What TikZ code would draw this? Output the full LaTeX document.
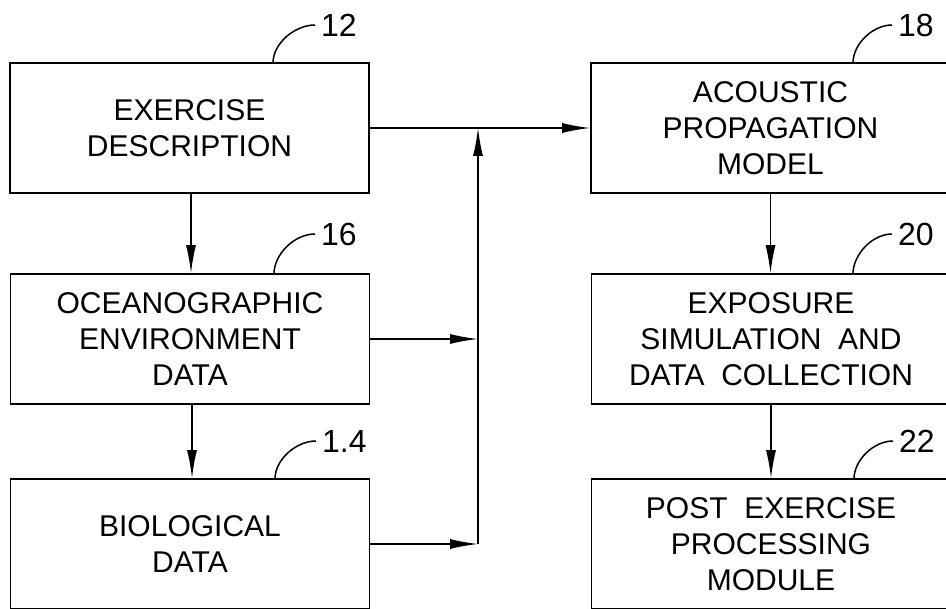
\documentclass[tikz,border=0pt]{standalone}
\usepackage{fontspec}
\setmainfont{Liberation Sans}
\usetikzlibrary{arrows.meta}
\begin{document}
\begin{tikzpicture}[x=1pt,y=-1pt,
  box/.style={draw, line width=1.6pt, minimum width=359pt, minimum height=130pt,
    inner sep=0pt, align=center, font=\fontsize{30}{36}\selectfont},
  flow/.style={line width=1.5pt, -{Latex[length=28pt,width=10pt]}},
  leader/.style={line width=1.5pt},
  refnum/.style={anchor=west, inner sep=0pt, font=\fontsize{32}{36}\selectfont}
]
\useasboundingbox (0,0) rectangle (946,609);
\clip (0,0) rectangle (946,609);

% input blocks
\node[box] (b12) at (189.5,128) {EXERCISE\\DESCRIPTION};
\node[box] (b16) at (190,339) {OCEANOGRAPHIC\\ENVIRONMENT\\DATA};
\node[box] (b14) at (190,544) {BIOLOGICAL\\DATA};

% processing chain
\node[box] (b18) at (770.5,128) {ACOUSTIC\\PROPAGATION\\MODEL};
\node[box] (b20) at (771,339) {EXPOSURE\\SIMULATION\ \ AND\\DATA\ \ COLLECTION};
\node[box] (b22) at (771,544) {POST\ \ EXERCISE\\PROCESSING\\MODULE};

% reference numerals
\node[refnum] (n12) at (321,25) {12};
\node[refnum] (n16) at (321,234) {16};
\node[refnum] (n14) at (322,441) {1.4};
\node[refnum] (n18) at (898,25) {18};
\node[refnum] (n20) at (898,234) {20};
\node[refnum] (n22) at (899,441) {22};

\coordinate (t12) at (273,63);
\coordinate (t16) at (274,274);
\coordinate (t14) at (275,479);
\coordinate (t18) at (853,63);
\coordinate (t20) at (853,274);
\coordinate (t22) at (854,479);

\foreach \a/\b in {t12/n12,t16/n16,t14/n14,t18/n18,t20/n20,t22/n22}
  \draw[leader] (\a) to[out=90,in=180,looseness=0.9] ([xshift=-6pt]\b.west);

% collecting bus
\coordinate (bus) at (478,128);
\draw[flow] (b12.east) -- (b18.west);
\draw[flow] (b16.east) -- (b16.east -| bus);
\draw[flow] (b14.east) -- (b14.east -| bus);
\draw[flow] (b14.east -| bus) -- (bus);

% vertical flow
\draw[flow] (b12.south -| 191,0) -- (b16.north -| 191,0);
\draw[flow] (b16.south -| 192,0) -- (b14.north -| 192,0);
\draw[flow] (b18) ++(0,65) coordinate (d18) -- (b20.north -| d18);
\draw[flow] (b20.south) -- (b22.north);
\end{tikzpicture}
\end{document}
